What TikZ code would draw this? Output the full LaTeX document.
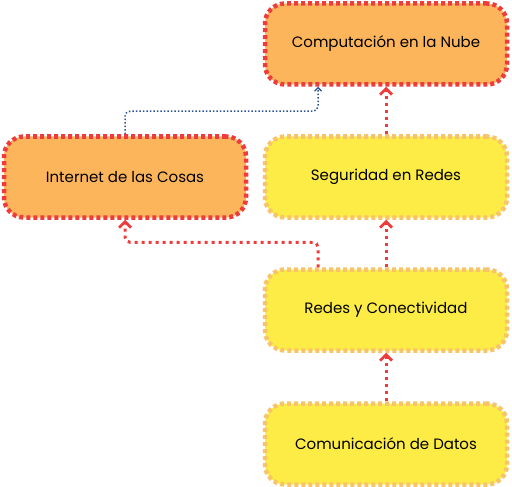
\documentclass[tikz,border=0pt]{standalone}
\usepackage{fontspec}
\setmainfont{Poppins}
\usetikzlibrary{arrows.meta,positioning}
\definecolor{boxorange}{HTML}{FDB55B}
\definecolor{boxyellow}{HTML}{FCEC45}
\definecolor{borderred}{HTML}{EE3B3B}
\definecolor{borderyellow}{HTML}{F8C36A}
\definecolor{linkblue}{HTML}{2E5590}
\begin{document}
\begin{tikzpicture}[x=1pt,y=-1pt,
    topic/.style={rounded corners=20pt, minimum width=242pt, minimum height=81pt,
      line width=4.5pt, dash pattern=on 4pt off 3pt, font=\fontsize{15}{18}\selectfont},
    hot/.style={topic, fill=boxorange, draw=borderred},
    warm/.style={topic, fill=boxyellow, draw=borderyellow},
    link/.style={draw=borderred, line width=3pt, dash pattern=on 3pt off 4pt,
      rounded corners=5pt, -{Straight Barb[length=6pt,width=12pt,line width=2.8pt]}},
    cloudlink/.style={draw=linkblue, line width=1.5pt, dotted,
      rounded corners=5pt, -{Straight Barb[length=3.5pt,width=7pt,line width=1.3pt]}}]
  \useasboundingbox (0,0) rectangle (512,487);
  % boxes
  \node[hot] (nube) at (386,44) {Computación en la Nube};
  \node[hot] (iot) at (125,177) {Internet de las Cosas};
  \node[warm] (seguridad) at (386,177) {Seguridad en Redes};
  \node[warm] (redes) at (386,310) {Redes y Conectividad};
  \node[warm] (datos) at (386,444) {Comunicación de Datos};
  % links
  \draw[link] (datos) -- (redes);
  \draw[link] (redes) -- (seguridad);
  \draw[link] (seguridad) -- (nube);
  \draw[link] ([xshift=-68pt]redes.north) -- ++(0,-25) -| (iot.south);
  \draw[cloudlink] (iot.north) -- ++(0,-23) -| ([xshift=-68pt]nube.south);
\end{tikzpicture}
\end{document}
